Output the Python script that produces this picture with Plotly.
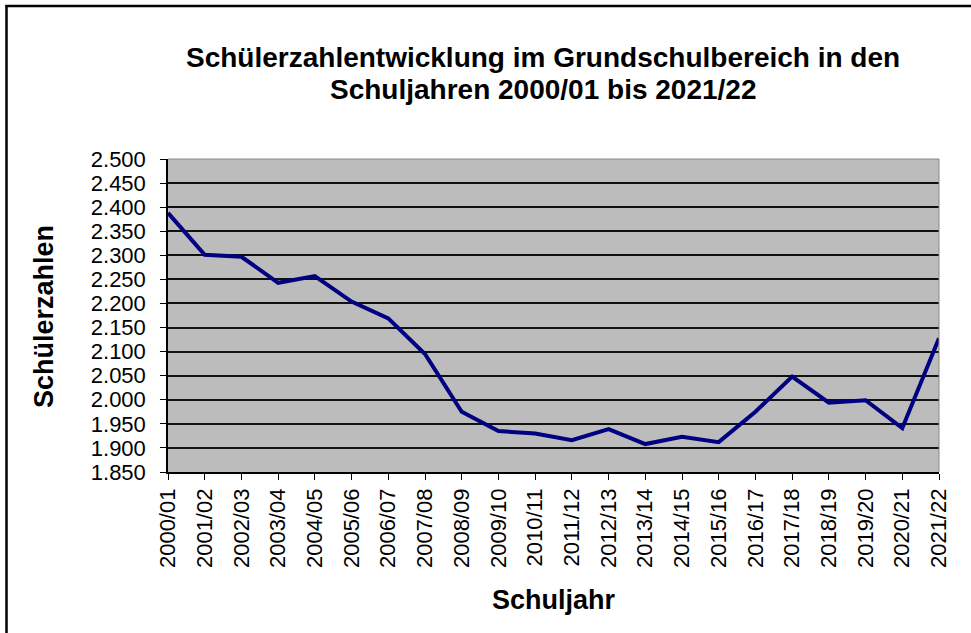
import plotly.graph_objects as go

schuljahre = ["2000/01", "2001/02", "2002/03", "2003/04", "2004/05", "2005/06",
              "2006/07", "2007/08", "2008/09", "2009/10", "2010/11", "2011/12",
              "2012/13", "2013/14", "2014/15", "2015/16", "2016/17", "2017/18",
              "2018/19", "2019/20", "2020/21", "2021/22"]
schuelerzahlen = [2388, 2301, 2297, 2243, 2257, 2204, 2169, 2095, 1975, 1935,
                  1930, 1916, 1939, 1908, 1923, 1912, 1975, 2048, 1994, 1999,
                  1941, 2128]

title_line1 = "Schülerzahlentwicklung im Grundschulbereich in den"
title_line2 = "Schuljahren 2000/01 bis 2021/22"
x_title = "Schuljahr"
y_title = "Schülerzahlen"

W, H = 971, 633
L, R, T, B = 168, 32, 159, 161
pw, ph = W - L - R, H - T - B

def px(x):
    return (x - L) / pw

def py(y):
    return 1 - (y - T) / ph

FONT = "Liberation Sans, Arial, sans-serif"

fig = go.Figure()
fig.add_trace(go.Scatter(
    x=list(range(len(schuljahre))), y=schuelerzahlen, mode="lines",
    line=dict(color="#000080", width=4), showlegend=False,
    hoverinfo="skip"))

title_font = dict(family=FONT, size=28, color="black", weight="bold")
axis_title_font = dict(family=FONT, size=27, color="black", weight="bold")

fig.update_layout(
    width=W, height=H,
    margin=dict(l=L, r=R, t=T, b=B),
    paper_bgcolor="white",
    plot_bgcolor="#bcbcbc",
    separators=",.",
    showlegend=False,
    xaxis=dict(
        tickmode="array", tickvals=list(range(len(schuljahre))),
        ticktext=schuljahre, range=[0, len(schuljahre) - 1],
        tickangle=-90, ticks="outside", ticklen=6, tickcolor="black",
        tickwidth=1, showline=True, linecolor="black", linewidth=1.5,
        showgrid=False, zeroline=False, mirror=False,
        tickfont=dict(family=FONT, size=22, color="black")),
    yaxis=dict(
        range=[1850, 2500], dtick=50, tick0=1850, tickformat=",d",
        ticks="outside", ticklen=6, tickcolor="black", tickwidth=1,
        ticklabelstandoff=10,
        showline=True, linecolor="black", linewidth=1.5,
        showgrid=True, gridcolor="#111111", gridwidth=1.5, zeroline=False,
        tickfont=dict(family=FONT, size=22, color="black")),
    annotations=[
        dict(text=title_line1, x=px(543), y=py(57), xref="paper", yref="paper",
             showarrow=False, xanchor="center", yanchor="middle",
             font=title_font),
        dict(text=title_line2, x=px(543), y=py(90), xref="paper", yref="paper",
             showarrow=False, xanchor="center", yanchor="middle",
             font=title_font),
        dict(text=x_title, x=0.5, y=py(600), xref="paper", yref="paper",
             showarrow=False, xanchor="center", yanchor="middle",
             font=axis_title_font),
        dict(text=y_title, x=px(44), y=py(316), xref="paper", yref="paper",
             showarrow=False, xanchor="center", yanchor="middle", textangle=-90,
             font=axis_title_font),
    ],
    shapes=[
        # plot area top/right border (gray)
        dict(type="line", xref="paper", yref="paper", x0=0, x1=1, y0=1, y1=1,
             line=dict(color="#8a8a8a", width=1)),
        dict(type="line", xref="paper", yref="paper", x0=1, x1=1, y0=0, y1=1,
             line=dict(color="#8a8a8a", width=1)),
        # outer frame
        dict(type="line", xref="paper", yref="paper", x0=px(6.5), x1=px(6.5),
             y0=py(H + 5), y1=py(5), line=dict(color="black", width=2.5)),
        dict(type="line", xref="paper", yref="paper", x0=px(5.5), x1=px(W + 5),
             y0=py(6), y1=py(6), line=dict(color="black", width=2.5)),
    ],
)

fig.write_html("out.html",
               config={"displayModeBar": False},
               post_script="document.body.style.margin='0';document.body.style.overflow='hidden';")
